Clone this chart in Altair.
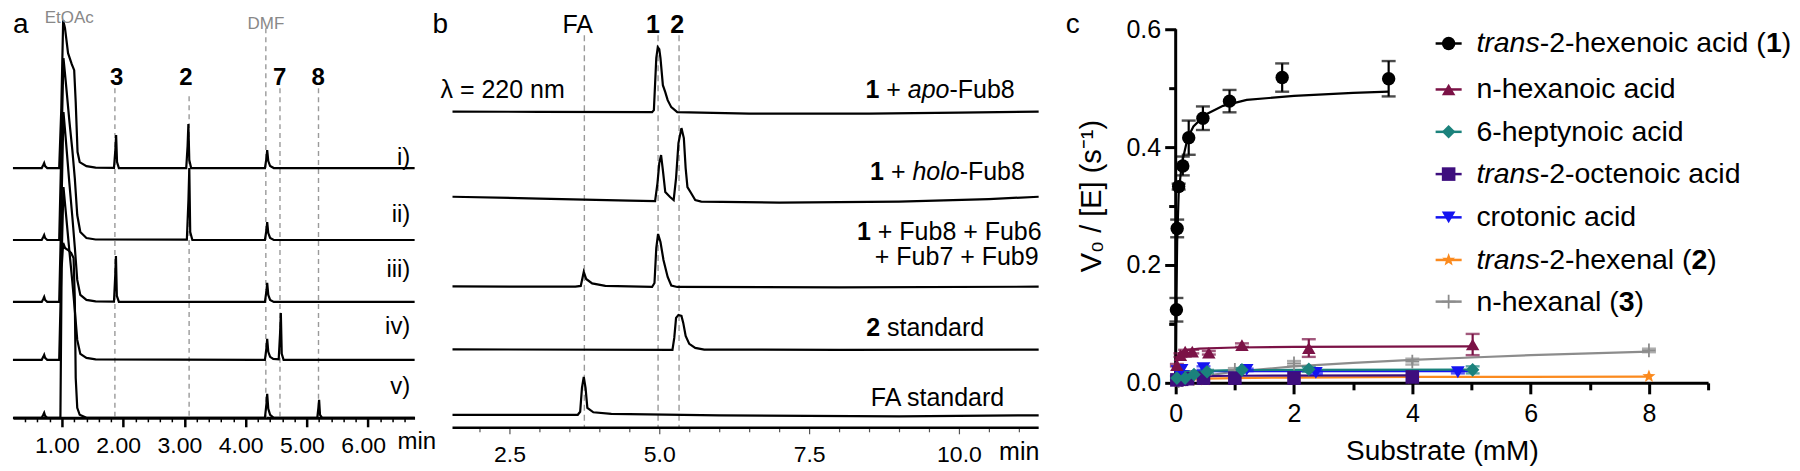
import altair as alt
import pandas as pd

FONT = "Liberation Sans"

# ======================= Panel a : GC traces =======================
A_T0, A_T1 = 0.2007, 6.7586          # visible time window (min)
A_W, A_H = 402, 410                   # view size
A_TRACES = ["i)", "ii)", "iii)", "iv)", "v)"]
A_OFFSET = [250, 178, 116, 58, 0]
A_ROMAN_Y = [260, 203, 148, 91, 31]

a1_t = [0.20, 0.67, 0.695, 0.71, 0.725, 0.76, 0.955, 0.99, 1.02, 1.05, 1.10, 1.16, 1.20, 1.225, 1.255, 1.29, 1.40, 1.55,
        1.85, 1.872, 1.885, 1.90, 1.93, 3.03, 3.052, 3.065, 3.08, 3.11, 4.315, 4.34, 4.352, 4.37, 4.40, 4.46, 6.76]
a1_v = [0, 0, 3, 5, 2, 0, 0, 60, 148, 140, 115, 104, 98, 66, 16, 6, 2, 0.5,
        0.3, 18, 33, 6, 0, 0, 22, 44, 8, 0, 0, 10, 18, 7, 2, 0, 0]
a2_t = [0.20, 0.67, 0.695, 0.71, 0.725, 0.76, 0.955, 0.99, 1.025, 1.06, 1.12, 1.17, 1.21, 1.25, 1.30, 1.40, 1.55,
        3.04, 3.066, 3.08, 3.095, 3.13, 4.315, 4.34, 4.352, 4.37, 4.40, 4.46, 6.76]
a2_v = [0, 0, 3, 5, 2, 0, 0, 90, 182, 160, 120, 90, 62, 25, 8, 2, 0.5,
        0.3, 40, 72, 8, 0, 0, 10, 18, 7, 2, 0, 0]
a3_t = [0.20, 0.67, 0.695, 0.71, 0.725, 0.76, 0.955, 0.99, 1.025, 1.06, 1.12, 1.17, 1.21, 1.25, 1.30, 1.40, 1.55,
        1.85, 1.87, 1.882, 1.897, 1.93, 4.315, 4.34, 4.352, 4.37, 4.40, 4.46, 6.76]
a3_v = [0, 0, 3, 5, 2, 0, 0, 90, 190, 165, 120, 85, 55, 22, 7, 2, 0.5,
        0.3, 26, 46, 6, 0, 0, 11, 19, 7, 2, 0, 0]
a4_t = [0.20, 0.67, 0.695, 0.71, 0.725, 0.76, 0.955, 0.99, 1.025, 1.06, 1.12, 1.17, 1.21, 1.25, 1.30, 1.40, 1.55,
        4.315, 4.34, 4.352, 4.37, 4.40, 4.45, 4.54, 4.562, 4.575, 4.59, 4.62, 6.76]
a4_v = [0, 0, 3, 5, 2, 0, 0, 90, 173, 150, 110, 78, 50, 20, 6, 2, 0.5,
        0, 12, 21, 8, 3, 1, 0.5, 26, 47, 6, 0, 0]
a5_t = [0.20, 0.67, 0.695, 0.71, 0.725, 0.76, 0.975, 0.995, 1.02, 1.05, 1.10, 1.15, 1.19, 1.21, 1.225, 1.25, 1.29, 1.40,
        4.315, 4.34, 4.352, 4.37, 4.40, 4.46, 5.17, 5.19, 5.20, 5.215, 5.25, 6.76]
a5_v = [0, 0, 3, 5, 2, 0, 0, 150, 175, 170, 168, 165, 160, 120, 40, 10, 3, 0,
        0, 14, 24, 9, 3, 0, 0, 11, 18, 3, 0, 0]
A_T = [a1_t, a2_t, a3_t, a4_t, a5_t]
A_V = [a1_v, a2_v, a3_v, a4_v, a5_v]

A_DASH_T = [1.865, 3.077, 4.33, 4.561, 5.19]
A_DASH_TOP = [330, 322, 390, 330, 330]
A_CMPD = ["3", "2", "7", "8"]
A_CMPD_T = [1.897, 3.03, 4.56, 5.19]
A_SOLV = ["EtOAc", "DMF"]
A_SOLV_T = [1.09, 4.35]
A_SOLV_Y = [400, 394]
A_TICKS = [round(0.4 + 0.2 * k, 1) for k in range(32)]

# ======================= Panel b : HPLC traces =======================
B_T0, B_T1 = 1.55, 12.983
B_W, B_H = 686, 420
B_AXIS_END = 11.33
b1_t = [1.55, 3.0, 4.88, 4.91, 4.95, 4.975, 5.0, 5.02, 5.06, 5.10, 5.14, 5.2, 5.3, 6.5, 8.5, 10.0, 11.33]
b1_v = [316.5, 316.3, 316, 318, 370, 381, 379, 370, 343, 336, 328, 321, 316, 314.5, 314.5, 315.5, 316.5]
b2_t = [1.55, 3.0, 4.5, 4.93, 4.97, 5.0, 5.03, 5.06, 5.10, 5.18, 5.24, 5.28, 5.32, 5.37, 5.41, 5.44, 5.47, 5.53,
        5.6, 5.7, 7.0, 9.0, 10.5, 11.33]
b2_v = [231.3, 229.5, 227.5, 227, 245, 265, 273, 258, 236, 231, 228, 250, 285, 300, 290, 260, 241, 235,
        228, 226.5, 225.5, 226.5, 229, 231.3]
b3_t = [1.55, 3.6, 3.69, 3.74, 3.78, 3.88, 4.1, 4.88, 4.92, 4.95, 4.98, 5.02, 5.07, 5.14, 5.2, 5.3, 8.0, 11.33]
b3_v = [141.5, 141.3, 142, 156, 149, 144.5, 142, 141, 145, 180, 194, 186, 168, 151, 142.5, 141, 140.5, 141.3]
b4_t = [1.55, 5.22, 5.25, 5.28, 5.32, 5.37, 5.40, 5.44, 5.5, 5.6, 5.75, 8.0, 11.33]
b4_v = [78.5, 78, 90, 110, 113, 112, 105, 92, 84, 80, 78.3, 78, 78.3]
b5_t = [1.55, 3.64, 3.68, 3.71, 3.74, 3.77, 3.8, 3.9, 4.2, 6.0, 9.0, 11.33]
b5_v = [13, 13, 16, 40, 51, 40, 20, 15.5, 14, 12.5, 11.5, 12.5]
B_T = [b1_t, b2_t, b3_t, b4_t, b5_t]
B_V = [b1_v, b2_v, b3_v, b4_v, b5_v]
B_DASH_T = [3.75, 4.98, 5.33]
B_DASH_TOP = 393
B_TICKS = [round(2.0 + 0.5 * k, 1) for k in range(19)]

# ======================= Panel c : kinetics =======================
C_W, C_H = 533, 375
C_X1, C_Y1 = 9, 0.635593
SER = ["trans-2-hexenoic acid (1)", "n-hexanoic acid", "6-heptynoic acid", "trans-2-octenoic acid",
       "crotonic acid", "trans-2-hexenal (2)", "n-hexanal (3)"]
COL = ["#000000", "#7B1246", "#1B827C", "#3E0E7E", "#1414F0", "#FB8A1E", "#8C8C8C"]
STAR = "M0,-1L0.247,-0.34L0.951,-0.309L0.4,0.13L0.588,0.809L0,0.42L-0.588,0.809L-0.4,0.13L-0.951,-0.309L-0.247,-0.34Z"
PLUS = "M-1,-0.13H-0.13V-1H0.13V-0.13H1V0.13H0.13V1H-0.13V0.13H-1Z"
SHP = ["circle", "triangle-up", "diamond", "square", "triangle-down", STAR, PLUS]
SZ = [180, 190, 210, 210, 220, 280, 220]

# measured points (substrate mM, V0/[E], error)
p1_s = [0.012, 0.025, 0.05, 0.12, 0.22, 0.46, 0.91, 1.8, 3.6]
p1_v = [0.124, 0.262, 0.333, 0.368, 0.416, 0.449, 0.478, 0.518, 0.516]
p1_e = [0.020, 0.015, 0.005, 0.016, 0.029, 0.020, 0.019, 0.024, 0.030]
p2_s = [0.02, 0.08, 0.16, 0.28, 0.56, 1.12, 2.25, 5.02]
p2_v = [0.030, 0.047, 0.053, 0.053, 0.051, 0.064, 0.059, 0.065]
p2_e = [0.002, 0.003, 0.003, 0.003, 0.003, 0.003, 0.015, 0.018]
p3_s = [0.02, 0.16, 0.31, 0.53, 1.12, 2.25, 5.02]
p3_v = [0.008, 0.008, 0.014, 0.019, 0.022, 0.023, 0.022]
p3_e = [0.003, 0.003, 0.003, 0.003, 0.003, 0.004, 0.006]
p4_s = [0.02, 0.1, 0.2, 0.47, 1.0, 2.0, 4.0]
p4_v = [0.005, 0.006, 0.007, 0.008, 0.008, 0.008, 0.010]
p4_e = [0, 0, 0, 0, 0, 0, 0]
p5_s = [0.03, 0.1, 0.47, 1.2, 2.37, 4.77]
p5_v = [0.020, 0.022, 0.025, 0.022, 0.017, 0.018]
p5_e = [0, 0, 0.003, 0.002, 0.002, 0.002]
p6_s = [0.05, 0.1, 0.25, 0.5, 1, 2, 4, 8]
p6_v = [0.002, 0.003, 0.004, 0.005, 0.006, 0.007, 0.008, 0.011]
p6_e = [0, 0, 0, 0, 0, 0, 0, 0]
p7_s = [0.05, 0.1, 0.25, 0.5, 1, 2, 4, 8]
p7_v = [0.003, 0.005, 0.010, 0.014, 0.022, 0.033, 0.036, 0.055]
p7_e = [0, 0, 0, 0, 0.003, 0.004, 0.005, 0.003]
P_S = [p1_s, p2_s, p3_s, p4_s, p5_s, p6_s, p7_s]
P_V = [p1_v, p2_v, p3_v, p4_v, p5_v, p6_v, p7_v]
P_E = [p1_e, p2_e, p3_e, p4_e, p5_e, p6_e, p7_e]

# fitted curves
f1_s = [0, 0.005, 0.012, 0.025, 0.05, 0.1, 0.2, 0.3, 0.5, 0.8, 1.2, 2.0, 3.0, 3.6]
f1_v = [0, 0.06, 0.14, 0.24, 0.32, 0.37, 0.415, 0.435, 0.455, 0.47, 0.48, 0.487, 0.492, 0.494]
f2_s = [0, 0.01, 0.03, 0.06, 0.15, 0.4, 1, 2, 5]
f2_v = [0, 0.02, 0.04, 0.05, 0.055, 0.058, 0.06, 0.061, 0.062]
f3_s = [0, 0.02, 0.05, 0.1, 0.3, 1, 2, 5]
f3_v = [0, 0.010, 0.015, 0.018, 0.020, 0.0215, 0.022, 0.0225]
f4_s = [0, 0.05, 0.2, 1, 4]
f4_v = [0, 0.008, 0.011, 0.012, 0.0125]
f5_s = [0, 0.01, 0.03, 0.1, 1, 5]
f5_v = [0, 0.015, 0.019, 0.020, 0.020, 0.020]
f6_s = [0, 0.1, 0.5, 1, 2, 4, 8]
f6_v = [0, 0.004, 0.007, 0.008, 0.009, 0.010, 0.0105]
f7_s = [0, 0.5, 1, 2, 3, 4, 5, 6, 8]
f7_v = [0, 0.012, 0.019, 0.028, 0.034, 0.039, 0.043, 0.047, 0.053]
F_S = [f1_s, f2_s, f3_s, f4_s, f5_s, f6_s, f7_s]
F_V = [f1_v, f2_v, f3_v, f4_v, f5_v, f6_v, f7_v]
DRAW_ORDER = [5, 6, 3, 4, 2, 1, 0]

# legend layout (in panel-c data units)
LEG_X_LINE = (4.394, 4.834)
LEG_X_MARK = 4.614
LEG_X_TEXT = 5.083
LEG_Y = [0.5758, 0.4978, 0.4259, 0.3542, 0.2808, 0.2085, 0.1378]
LEG_PIECES = [
    [("trans", "i"), ("-2-hexenoic acid (", "n"), ("1", "b"), (")", "n")],
    [("n-hexanoic acid", "n")],
    [("6-heptynoic acid", "n")],
    [("trans", "i"), ("-2-octenoic acid", "n")],
    [("crotonic acid", "n")],
    [("trans", "i"), ("-2-hexenal (", "n"), ("2", "b"), (")", "n")],
    [("n-hexanal (", "n"), ("3", "b"), (")", "n")],
]
LEG_FS = 28.5

# ---------------- text helpers (Arial/Liberation metrics) ----------------
CW = {' ': 278, '(': 333, ')': 333, '-': 333, '+': 584, '.': 278, '/': 278, '=': 584,
      'a': 556, 'b': 556, 'c': 500, 'd': 556, 'e': 556, 'f': 278, 'g': 556, 'h': 556, 'i': 222, 'j': 222,
      'k': 500, 'l': 222, 'm': 833, 'n': 556, 'o': 556, 'p': 556, 'q': 556, 'r': 333, 's': 500, 't': 278,
      'u': 556, 'v': 500, 'w': 722, 'x': 500, 'y': 500, 'z': 500,
      'A': 667, 'D': 722, 'E': 667, 'F': 611, 'M': 833, 'S': 667}


def tw(s, size):
    return sum(CW.get(c, 556) for c in s) * size / 1000.0


def piece_rows(pieces, anchor, y, size, ppu, align="left"):
    total = sum(tw(s, size) for s, _ in pieces)
    cur = 0.0 if align == "left" else (-total if align == "right" else -total / 2.0)
    rows = []
    for s, st in pieces:
        lead = len(s) - len(s.lstrip(" "))
        txt = s.strip(" ")
        if txt:
            rows.append({"x": anchor + (cur + tw(s[:lead], size)) / ppu, "y": y, "text": txt, "style": st})
        cur += tw(s, size)
    return rows


def text_layers(rows, X, Y, size, color="black", baseline="middle"):
    df = pd.DataFrame(rows)
    out = []
    for st, kw in (("n", {}), ("b", {"fontWeight": "bold"}), ("i", {"fontStyle": "italic"})):
        sub = df[df["style"] == st]
        if len(sub):
            out.append(alt.Chart(sub).mark_text(align="left", baseline=baseline, font=FONT, fontSize=size,
                                                color=color, **kw).encode(x=X, y=Y, text="text:N"))
    return out


# ======================= build panel a =======================
tA = "abs(datum.value - round(datum.value)) < 0.001"
axA = alt.Axis(values=A_TICKS, title=None, grid=False, domainColor="black", domainWidth=3,
               tickColor="black",
               tickWidth={"condition": {"test": tA, "value": 2.5}, "value": 1.5},
               tickSize={"condition": {"test": tA, "value": 9}, "value": 4},
               labelExpr=f"{tA} ? format(datum.value, '.2f') : ''", labelFont=FONT, labelFontSize=23,
               labelColor="black", labelPadding=8, labelOverlap=False, labelOffset=-5, labelFlush=False)
XA = alt.X("x:Q", scale=alt.Scale(domain=[A_T0, A_T1], nice=False, zero=False), axis=axA)
YA = alt.Y("y:Q", scale=alt.Scale(domain=[0, A_H], nice=False, zero=False), axis=None)

a_rows = []
for name, off, ts, vs in zip(A_TRACES, A_OFFSET, A_T, A_V):
    for t, v in zip(ts, vs):
        a_rows.append({"trace": name, "x": t, "y": v + off})
a_df = pd.DataFrame(a_rows)
a_dash = pd.DataFrame({"x": A_DASH_T, "y": A_DASH_TOP, "y2": [0] * len(A_DASH_T)})

ppuA = A_W / (A_T1 - A_T0)
a_txt = []
for s, t in zip(A_CMPD, A_CMPD_T):
    a_txt += piece_rows([(s, "b")], t, 340, 25, ppuA, "center")
for s, y in zip(A_TRACES, A_ROMAN_Y):
    a_txt += piece_rows([(s, "n")], 6.69, y, 24, ppuA, "right")
a_txt += piece_rows([("min", "n")], 6.48, -24, 23, ppuA, "left")
a_gray = []
a_gray += piece_rows([("EtOAc", "n")], A_SOLV_T[0], A_SOLV_Y[0], 17, ppuA, "center")
a_gray += piece_rows([("DMF", "n")], A_SOLV_T[1], A_SOLV_Y[1], 18, ppuA, "center")

pa = alt.layer(
    alt.Chart(a_dash).mark_rule(color="#9a9a9a", strokeWidth=1.4, strokeDash=[5, 4]).encode(
        x=XA, y=YA, y2=alt.Y2("y2:Q")),
    alt.Chart(a_df).mark_line(color="black", strokeWidth=2.2).encode(x=XA, y=YA, detail="trace:N"),
    *text_layers(a_txt, XA, YA, 24),
    *text_layers(a_gray, XA, YA, 17, color="#888888"),
    *text_layers(piece_rows([("a", "n")], A_T0, A_H - 3, 28, ppuA, "left"), XA, YA, 28, baseline="top"),
).properties(width=A_W, height=A_H)

# ======================= build panel b =======================
tB = "abs(datum.value/2.5 - round(datum.value/2.5)) < 0.001"
axB = alt.Axis(values=B_TICKS, title=None, grid=False, domain=False, tickColor="#555555", tickWidth=1.2,
               tickSize={"condition": {"test": tB, "value": 6}, "value": 4},
               labelExpr=f"{tB} ? format(datum.value, '.1f') : ''", labelFont=FONT, labelFontSize=23,
               labelColor="black", labelPadding=10, labelOverlap=False, labelFlush=False)
XB = alt.X("x:Q", scale=alt.Scale(domain=[B_T0, B_T1], nice=False, zero=False), axis=axB)
YB = alt.Y("y:Q", scale=alt.Scale(domain=[0, B_H], nice=False, zero=False), axis=None)

b_rows = []
for k, (ts, vs) in enumerate(zip(B_T, B_V)):
    for t, v in zip(ts, vs):
        b_rows.append({"trace": k, "x": t, "y": v})
b_df = pd.DataFrame(b_rows)
b_dash = pd.DataFrame({"x": B_DASH_T, "y": [B_DASH_TOP] * 3, "y2": [0] * 3})
b_axis = pd.DataFrame({"x": [B_T0], "x2": [B_AXIS_END], "y": [0]})

ppuB = B_W / (B_T1 - B_T0)
FS_B = 25
b_txt = []
b_txt += piece_rows([("1", "b"), (" + ", "n"), ("apo", "i"), ("-Fub8", "n")], 10.93, 338, FS_B, ppuB, "right")
b_txt += piece_rows([("1", "b"), (" + ", "n"), ("holo", "i"), ("-Fub8", "n")], 11.10, 256, FS_B, ppuB, "right")
b_txt += piece_rows([("1", "b"), (" + Fub8 + Fub6", "n")], 11.38, 196, FS_B, ppuB, "right")
b_txt += piece_rows([("+ Fub7 + Fub9", "n")], 11.33, 171, FS_B, ppuB, "right")
b_txt += piece_rows([("2", "b"), (" standard", "n")], 10.42, 100, FS_B, ppuB, "right")
b_txt += piece_rows([("FA standard", "n")], 10.80, 30, FS_B, ppuB, "right")
b_txt += piece_rows([("λ = 220 nm", "n")], 1.35, 338, FS_B, ppuB, "left")
b_txt += piece_rows([("FA", "n")], 3.65, 403, FS_B, ppuB, "center")
b_txt += piece_rows([("1", "b")], 4.895, 403, FS_B, ppuB, "center")
b_txt += piece_rows([("2", "b")], 5.30, 403, FS_B, ppuB, "center")
b_txt += piece_rows([("min", "n")], 10.67, -24, FS_B, ppuB, "left")

pb = alt.layer(
    alt.Chart(b_dash).mark_rule(color="#9a9a9a", strokeWidth=1.4, strokeDash=[6, 4]).encode(
        x=XB, y=YB, y2=alt.Y2("y2:Q")),
    alt.Chart(b_axis).mark_rule(color="black", strokeWidth=2.5).encode(x=XB, x2=alt.X2("x2:Q"), y=YB),
    alt.Chart(b_df).mark_line(color="black", strokeWidth=2.2).encode(x=XB, y=YB, detail="trace:N"),
    *text_layers(b_txt, XB, YB, FS_B),
    *text_layers(piece_rows([("b", "n")], 1.217, B_H - 3, 28, ppuB, "left"), XB, YB, 28, baseline="top"),
).properties(width=B_W, height=B_H)

# ======================= build panel c =======================
tCx = "datum.value % 2 === 0"
tCy = "round(datum.value*10) % 2 === 0"
axCx = alt.Axis(values=list(range(10)), title="Substrate (mM)", grid=False, domainColor="black", domainWidth=3,
                tickColor="black", tickWidth=3,
                tickSize={"condition": {"test": tCx, "value": 11}, "value": 7},
                labelExpr=f"{tCx} ? format(datum.value, 'd') : ''", labelFont=FONT, labelFontSize=25,
                labelColor="black", labelPadding=8, labelOverlap=False, labelFlush=False,
                titleFont=FONT, titleFontSize=28, titleFontWeight="normal", titleColor="black", titlePadding=11)
axCy = alt.Axis(values=[round(0.1 * k, 1) for k in range(7)], title="V₀ / [E] (s⁻¹)", grid=False, domain=False,
                tickColor="black", tickWidth=3,
                tickSize={"condition": {"test": tCy, "value": 11}, "value": 7},
                labelExpr=f"{tCy} ? format(datum.value, '.1f') : ''", labelFont=FONT, labelFontSize=25,
                labelColor="black", labelPadding=4, labelOverlap=False, labelFlush=False,
                titleFont=FONT, titleFontSize=29, titleFontWeight="normal", titleColor="black", titlePadding=20)
XC = alt.X("x:Q", scale=alt.Scale(domain=[0, C_X1], nice=False, zero=False), axis=axCx)
YC = alt.Y("y:Q", scale=alt.Scale(domain=[0, C_Y1], nice=False, zero=False), axis=axCy)
COLOR = alt.Color("series:N", scale=alt.Scale(domain=SER, range=COL), legend=None)
SHAPE = alt.Shape("series:N", scale=alt.Scale(domain=SER, range=SHP), legend=None)
SIZE = alt.Size("series:N", scale=alt.Scale(domain=SER, range=SZ), legend=None)

f_rows, p_rows, e_rows, cap_rows = [], [], [], []
for i in DRAW_ORDER:
    for s, v in zip(F_S[i], F_V[i]):
        f_rows.append({"series": SER[i], "x": s, "y": v})
for i in DRAW_ORDER:
    for s, v, e in zip(P_S[i], P_V[i], P_E[i]):
        p_rows.append({"series": SER[i], "x": s, "y": v})
        if e > 0:
            e_rows.append({"series": SER[i], "x": s, "y": v - e, "y2": v + e})
            cap_rows.append({"series": SER[i], "x": s, "y": v - e})
            cap_rows.append({"series": SER[i], "x": s, "y": v + e})
f_df, p_df, e_df, cap_df = map(pd.DataFrame, (f_rows, p_rows, e_rows, cap_rows))
leg_df = pd.DataFrame({"series": SER, "x": [LEG_X_MARK] * 7, "xa": [LEG_X_LINE[0]] * 7,
                       "xb": [LEG_X_LINE[1]] * 7, "y": LEG_Y})
c_axis = pd.DataFrame({"x": [0], "y": [0], "y2": [0.6]})

ppuC = C_W / C_X1
c_txt = []
for pcs, y in zip(LEG_PIECES, LEG_Y):
    c_txt += piece_rows(pcs, LEG_X_TEXT, y, LEG_FS, ppuC, "left")

pc = alt.layer(
    alt.Chart(c_axis).mark_rule(color="black", strokeWidth=3).encode(x=XC, y=YC, y2=alt.Y2("y2:Q")),
    alt.Chart(f_df).mark_line(strokeWidth=2.2).encode(x=XC, y=YC, color=COLOR, detail="series:N"),
    alt.Chart(e_df).mark_rule(strokeWidth=2.2).encode(x=XC, y=YC, y2=alt.Y2("y2:Q"), color=COLOR),
    alt.Chart(cap_df).mark_tick(orient="horizontal", size=14, thickness=2.4).encode(x=XC, y=YC, color=COLOR),
    alt.Chart(p_df).mark_point(filled=True, opacity=1).encode(x=XC, y=YC, color=COLOR, shape=SHAPE, size=SIZE),
    alt.Chart(leg_df).mark_rule(strokeWidth=2.5).encode(
        x=alt.X("xa:Q", scale=alt.Scale(domain=[0, C_X1], nice=False, zero=False), axis=axCx),
        x2=alt.X2("xb:Q"), y=YC, color=COLOR),
    alt.Chart(leg_df).mark_point(filled=True, opacity=1).encode(x=XC, y=YC, color=COLOR, shape=SHAPE, size=SIZE),
    *text_layers(c_txt, XC, YC, LEG_FS),
    *text_layers(piece_rows([("c", "n")], -1.857, C_Y1 - 3 / 590, 28, ppuC, "left"), XC, YC, 28, baseline="top"),
).properties(width=C_W, height=C_H)

chart = alt.hconcat(pa, pb, pc, spacing=38, bounds="flush").properties(padding=0).configure_view(stroke=None)
chart.save("out.html", embed_options={"renderer": "svg", "actions": False})
